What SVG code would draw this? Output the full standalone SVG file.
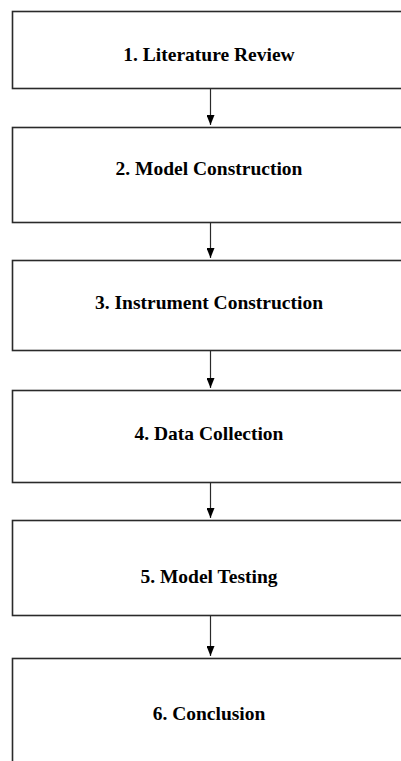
<svg xmlns="http://www.w3.org/2000/svg" width="401" height="761" viewBox="0 0 401 761">
<style>
.box{fill:#fff;stroke:#2a2a2a;stroke-width:1.6}
.lbl{font-family:"Liberation Serif","Times New Roman",serif;font-weight:bold;font-size:19.5px;fill:#000;text-anchor:middle}
.conn{stroke:#2a2a2a;stroke-width:1.2;fill:none}
</style>
<defs>
<marker id="ah" viewBox="0 0 10 8" refX="10" refY="4" markerWidth="10" markerHeight="8" markerUnits="userSpaceOnUse" orient="auto">
<path d="M0,0 L10,4 L0,8 Z" fill="#000"/>
</marker>
</defs>
<rect width="401" height="761" fill="#fff"/>
<g id="connectors">
<line class="conn" x1="210.5" y1="89" x2="210.5" y2="125" marker-end="url(#ah)"/>
<line class="conn" x1="210.5" y1="223" x2="210.5" y2="258" marker-end="url(#ah)"/>
<line class="conn" x1="210.5" y1="351" x2="210.5" y2="388" marker-end="url(#ah)"/>
<line class="conn" x1="210.5" y1="483" x2="210.5" y2="518" marker-end="url(#ah)"/>
<line class="conn" x1="210.5" y1="616" x2="210.5" y2="656" marker-end="url(#ah)"/>
</g>
<g id="node1"><rect class="box" x="12.5" y="11.5" width="400" height="77"/><text class="lbl" x="209" y="61">1. Literature Review</text></g>
<g id="node2"><rect class="box" x="12.5" y="127.5" width="400" height="95"/><text class="lbl" x="209" y="175">2. Model Construction</text></g>
<g id="node3"><rect class="box" x="12.5" y="260.5" width="400" height="90"/><text class="lbl" x="209" y="309">3. Instrument Construction</text></g>
<g id="node4"><rect class="box" x="12.5" y="390.5" width="400" height="92"/><text class="lbl" x="209" y="440">4. Data Collection</text></g>
<g id="node5"><rect class="box" x="12.5" y="520.5" width="400" height="95"/><text class="lbl" x="209" y="583">5. Model Testing</text></g>
<g id="node6"><rect class="box" x="12.5" y="658.5" width="400" height="120"/><text class="lbl" x="209" y="720">6. Conclusion</text></g>
</svg>
